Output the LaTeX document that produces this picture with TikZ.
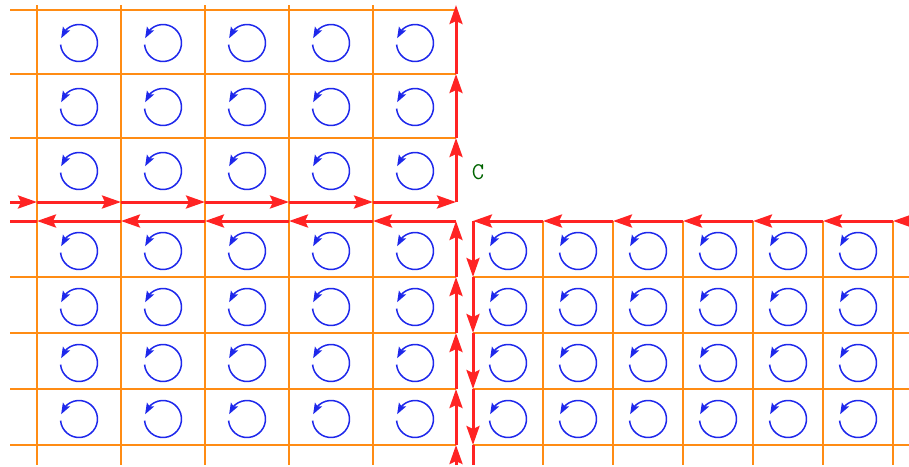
\documentclass[tikz,border=0pt]{standalone}
\usepackage{fontspec}
\usepackage{tikz}
\usetikzlibrary{arrows.meta,bending}
\definecolor{gridorange}{RGB}{255,140,20}
\definecolor{edgered}{RGB}{255,35,35}
\definecolor{swirlblue}{RGB}{30,40,235}
\definecolor{labelgreen}{RGB}{0,100,0}
\newcommand{\clabelfont}{\fontsize{24}{26}\selectfont\ttfamily}

\begin{document}
\begin{tikzpicture}[x=1pt,y=-1pt,
  gridline/.style={draw=gridorange,line width=2pt},
  redline/.style={draw=edgered,line width=3pt},
  redarrow/.style={redline,-{Stealth[length=19pt,width=13pt,inset=3pt]}},
  swirl/.style={draw=swirlblue,line width=1.5pt,-{Stealth[length=11pt,width=8pt,inset=2pt]}},
  clabel/.style={text=labelgreen,font=\clabelfont}]
\useasboundingbox (0,0) rectangle (909,466);
% orange grid
\foreach \y in {10,74,138} \draw[gridline] (10,\y) -- (456,\y);
\foreach \y in {277,333,389,445} {
  \draw[gridline] (10,\y) -- (456,\y);
  \draw[gridline] (473,\y) -- (909,\y);
}
\foreach \x in {37,121,205,289,373} \draw[gridline] (\x,5) -- (\x,465);
\foreach \x in {543,613,683,753,823,893} \draw[gridline] (\x,221) -- (\x,465);
% red boundary, upper part
\draw[redarrow] (10,202) -- (37,202);
\foreach \a/\b in {37/121,121/205,205/289,289/373,373/456} \draw[redarrow] (\a,202) -- (\b,202);
\foreach \a/\b in {202/138,138/74,74/5} \draw[redarrow] (456,\a) -- (456,\b);
% red boundary, lower left part
\foreach \a/\b in {456/373,373/289,289/205,205/121,121/37} \draw[redarrow] (\a,221) -- (\b,221);
\draw[redline] (37,221) -- (10,221);
\foreach \a/\b in {465/445,445/389,389/333,333/277,277/221} \draw[redarrow] (456,\a) -- (456,\b);
% red boundary, lower right part
\foreach \a/\b in {909/893,893/823,823/753,753/683,683/613,613/543,543/473} \draw[redarrow] (\a,221) -- (\b,221);
\foreach \a/\b in {221/277,277/333,333/389,389/445} \draw[redarrow] (473,\a) -- (473,\b);
\draw[redline] (473,445) -- (473,465);
% small circulations
\foreach \x in {79,163,247,331,415} {
  \foreach \y in {43,107,171,251,307,363,419}
    \draw[swirl] (\x,\y) ++(-185:18.5) arc (-185:-525:18.5);
}
\foreach \x in {508,578,648,718,788,858} {
  \foreach \y in {251,307,363,419}
    \draw[swirl] (\x,\y) ++(-185:18.5) arc (-185:-525:18.5);
}
\node[clabel] (C) at (478,172) {C};
\end{tikzpicture}
\end{document}
